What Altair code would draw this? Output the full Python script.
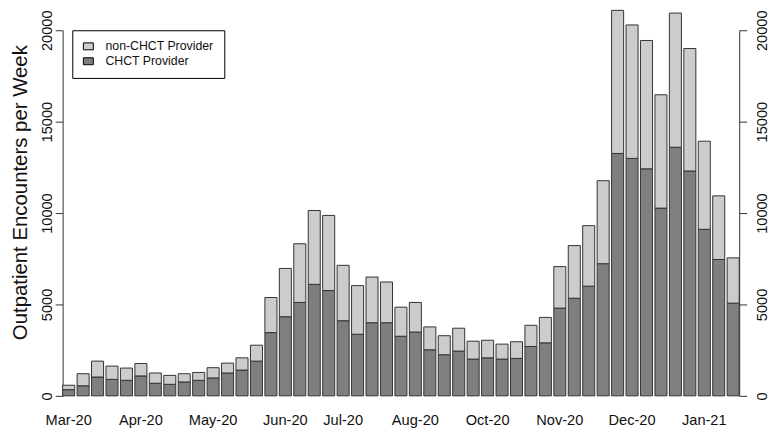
import altair as alt
import pandas as pd

# ---- data (weekly outpatient encounters) ----
week_index = list(range(47))
chct_provider = [340, 550, 1030, 900, 850, 1090, 690, 630, 760, 850,
                 980, 1250, 1410, 1900, 3460, 4330, 5110, 6100, 5760, 4110,
                 3370, 4000, 4000, 3260, 3490, 2520, 2250, 2450, 2010, 2080,
                 2010, 2050, 2700, 2900, 4800, 5340, 6000, 7230, 13260, 12990,
                 12420, 10270, 13600, 12300, 9110, 7460, 5070]
non_chct_provider = [240, 660, 870, 730, 670, 680, 560, 490, 450, 430,
                     560, 540, 670, 870, 1920, 2640, 3210, 4040, 4110, 3030,
                     2660, 2500, 2230, 1590, 1620, 1250, 1040, 1250, 980, 960,
                     820, 910, 1160, 1390, 2270, 2880, 3310, 4540, 7830, 7300,
                     7020, 6200, 7340, 6700, 4820, 3480, 2480]
series_names = ["non-CHCT Provider", "CHCT Provider"]
series_colors = ["#CCCCCC", "#7F7F7F"]

tick_positions = [0, 5, 10, 15, 19, 24, 29, 34, 39, 44]
tick_labels = ["Mar-20", "Apr-20", "May-20", "Jun-20", "Jul-20",
               "Aug-20", "Oct-20", "Nov-20", "Dec-20", "Jan-21"]
y_ticks = [0, 5000, 10000, 15000, 20000]

rows = []
for i in week_index:
    rows.append({"week": i, "provider": "CHCT Provider", "value": chct_provider[i], "ord": 0})
    rows.append({"week": i, "provider": "non-CHCT Provider", "value": non_chct_provider[i], "ord": 1})
df = pd.DataFrame(rows)

expr = "''"
for p, t in reversed(list(zip(tick_positions, tick_labels))):
    expr = f"datum.value == {p} ? '{t}' : ({expr})"

FONT = "Liberation Sans"
AX = "#333333"
TXT = "#111111"

yscale = alt.Scale(domain=[0, 20000], nice=False, zero=True)

left_axis = alt.Axis(
    orient="left", values=y_ticks, format="d", grid=False,
    labelAngle=270, labelAlign="center", labelBaseline="alphabetic",
    labelPadding=3.5, tickSize=7.5, domainColor=AX, tickColor=AX,
    labelFont=FONT, labelFontSize=14.7, labelColor=TXT, labelBound=False,
    title="Outpatient Encounters per Week", titleFont=FONT, titleFontSize=20.5,
    titleFontWeight="normal", titleColor=TXT, titleAngle=270,
    titleX=-36, titleY=163, titleAlign="center", titleBaseline="alphabetic",
)
right_axis = alt.Axis(
    orient="right", values=y_ticks, format="d", grid=False,
    labelAngle=270, labelAlign="center", labelBaseline="top",
    labelPadding=8, tickSize=7.5, domainColor=AX, tickColor=AX,
    labelFont=FONT, labelFontSize=14.7, labelColor=TXT, labelBound=False,
    title=None,
)
x_axis = alt.Axis(
    orient="bottom", domain=False, ticks=False, labelAngle=0,
    labelExpr=expr, labelPadding=17, labelFont=FONT, labelFontSize=14.7,
    labelColor=TXT, labelOverlap=False, title=None,
)

bars = alt.Chart(df).mark_bar(stroke="#333333", strokeWidth=1, clip=False).encode(
    x=alt.X("week:O", axis=x_axis,
            scale=alt.Scale(paddingInner=1 / 6, paddingOuter=0)),
    y=alt.Y("value:Q", stack="zero", scale=yscale, axis=left_axis),
    color=alt.Color(
        "provider:N",
        scale=alt.Scale(domain=series_names, range=series_colors),
        legend=alt.Legend(
            orient="none", legendX=9.7, legendY=0, title=None,
            strokeColor="black", padding=10, fillColor="white",
            symbolType="M-1,-0.7H1V0.7H-1Z", symbolSize=100,
            symbolStrokeColor="black", symbolStrokeWidth=1,
            labelFont=FONT, labelFontSize=12.4, labelColor=TXT,
            labelOffset=11, rowPadding=2,
        ),
    ),
    order=alt.Order("ord:Q", sort="ascending"),
)

right = alt.Chart(df).mark_point(opacity=0).encode(
    y=alt.Y("value:Q", scale=yscale, axis=right_axis),
)

chart = alt.layer(bars, right).resolve_axis(y="independent").properties(
    width=681, height=368,
    autosize=alt.AutoSizeParams(type="none"),
    padding={"left": 55, "top": 21, "right": 30, "bottom": 37},
).configure_view(stroke=None)

chart.save("out.html", embed_options={"renderer": "svg", "actions": False})
